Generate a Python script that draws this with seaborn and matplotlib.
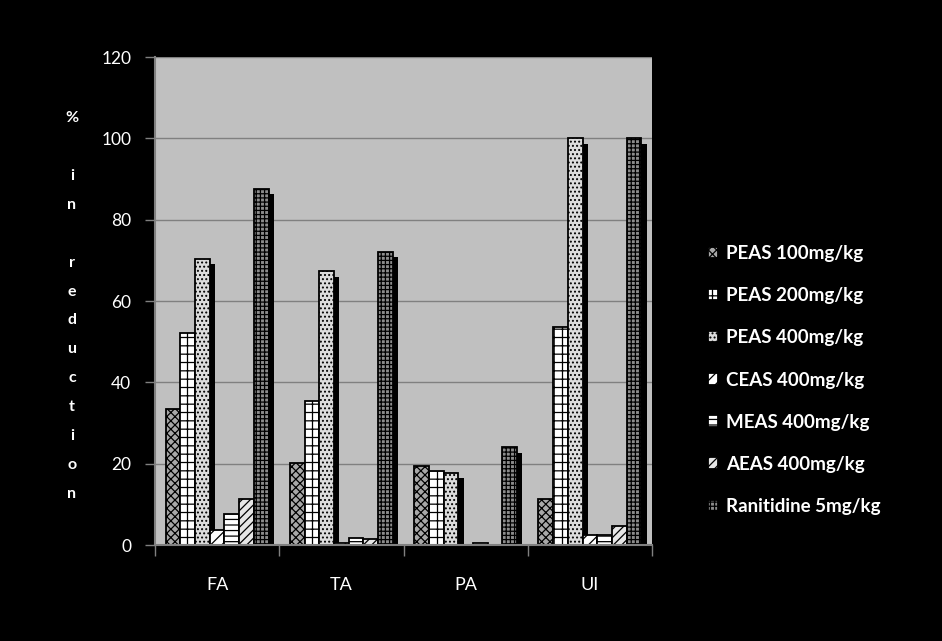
import matplotlib
matplotlib.use("Agg")
import matplotlib.pyplot as plt
import matplotlib.patheffects as pe
from matplotlib.ticker import FixedLocator, NullFormatter
import seaborn as sns
import pandas as pd

categories = ["FA", "TA", "PA", "UI"]
treatments = ["PEAS 100mg/kg", "PEAS 200mg/kg", "PEAS 400mg/kg", "CEAS 400mg/kg",
              "MEAS 400mg/kg", "AEAS 400mg/kg", "Ranitidine 5mg/kg"]
peas100 = [33.5, 20.2, 19.5, 11.2]
peas200 = [52.2, 35.4, 18.3, 53.6]
peas400 = [70.3, 67.3, 17.8, 100.0]
ceas400 = [3.8, 0.6, 0.0, 2.4]
meas400 = [7.6, 1.7, 0.6, 2.4]
aeas400 = [11.3, 1.4, 0.0, 4.7]
ranitidine = [87.5, 72.0, 24.0, 100.0]
yticks = [0, 20, 40, 60, 80, 100, 120]

series = [peas100, peas200, peas400, ceas400, meas400, aeas400, ranitidine]
rows = []
for t, vals in zip(treatments, series):
    for c, v in zip(categories, vals):
        rows.append({"category": c, "treatment": t, "value": v})
df = pd.DataFrame(rows)

sns.set_theme(style="white")
plt.rcParams["font.family"] = ["Lato", "DejaVu Sans"]
plt.rcParams["hatch.linewidth"] = 0.9

faces = ["#a8a8a8", "#ffffff", "#dcdcdc", "#ffffff", "#ffffff", "#e6e6e6", "#8c8c8c"]
hatches = ["xxxx", "++", "....", "///", "---", "////", "++++"]

fig = plt.figure(figsize=(9.42, 6.41), dpi=100, facecolor="black")
ax = fig.add_axes([155/942, 1-545/641, (652-155)/942, (545-57)/641])
ax.set_facecolor("#c0c0c0")

sns.barplot(data=df, x="category", y="value", hue="treatment", order=categories,
            hue_order=treatments, palette=faces, saturation=1, width=0.83,
            edgecolor="black", linewidth=1.3, ax=ax, legend=False, zorder=3)

shadow = [pe.SimplePatchShadow(offset=(3.8, -3.8), shadow_rgbFace="black", alpha=1.0, rho=0),
          pe.Normal()]
for cont, h in zip(ax.containers, hatches):
    for p in cont.patches:
        p.set_hatch(h)
        if p.get_height() > 0:
            p.set_path_effects(shadow)
        else:
            p.set_visible(False)

ax.set_ylim(0, 120)
ax.set_xlim(-0.5, 3.5)
ax.set_yticks(yticks)
ax.yaxis.grid(True, color="#808080", linewidth=1.0, zorder=0)
ax.set_axisbelow(True)
for s in ["top", "right"]:
    ax.spines[s].set_visible(False)
for s in ["left", "bottom"]:
    ax.spines[s].set_color("#808080")
    ax.spines[s].set_linewidth(1.5)
    ax.spines[s].set_zorder(5)

ax.tick_params(axis="y", which="major", direction="out", length=7, width=1,
               color="#808080", labelcolor="white", labelsize=12.5, pad=10, left=True)
ax.tick_params(axis="x", which="major", length=0, labelcolor="white", labelsize=13, pad=23)
ax.xaxis.set_minor_locator(FixedLocator([-0.5, 0.5, 1.5, 2.5, 3.5]))
ax.xaxis.set_minor_formatter(NullFormatter())
ax.tick_params(axis="x", which="minor", direction="out", length=8, width=1,
               color="#808080", bottom=True)
ax.set_xlabel("")
ax.set_ylabel("")

fig.text(72/942, 1-306/641, "%\n\ni\nn\n\nr\ne\nd\nu\nc\nt\ni\no\nn", color="white",
         ha="center", va="center", fontsize=11.5, fontweight="bold", linespacing=2.36)

leg = ax.legend(ax.containers, treatments, loc="center left",
                bbox_to_anchor=(700/942, 1-380/641), bbox_transform=fig.transFigure,
                frameon=False, fontsize=13.5, labelspacing=1.34, handlelength=0.55,
                handleheight=0.55, handletextpad=0.45, borderaxespad=0)
for t in leg.get_texts():
    t.set_color("white")
    t.set_fontweight("bold")

fig.savefig("out.png", dpi=100, facecolor="black")
